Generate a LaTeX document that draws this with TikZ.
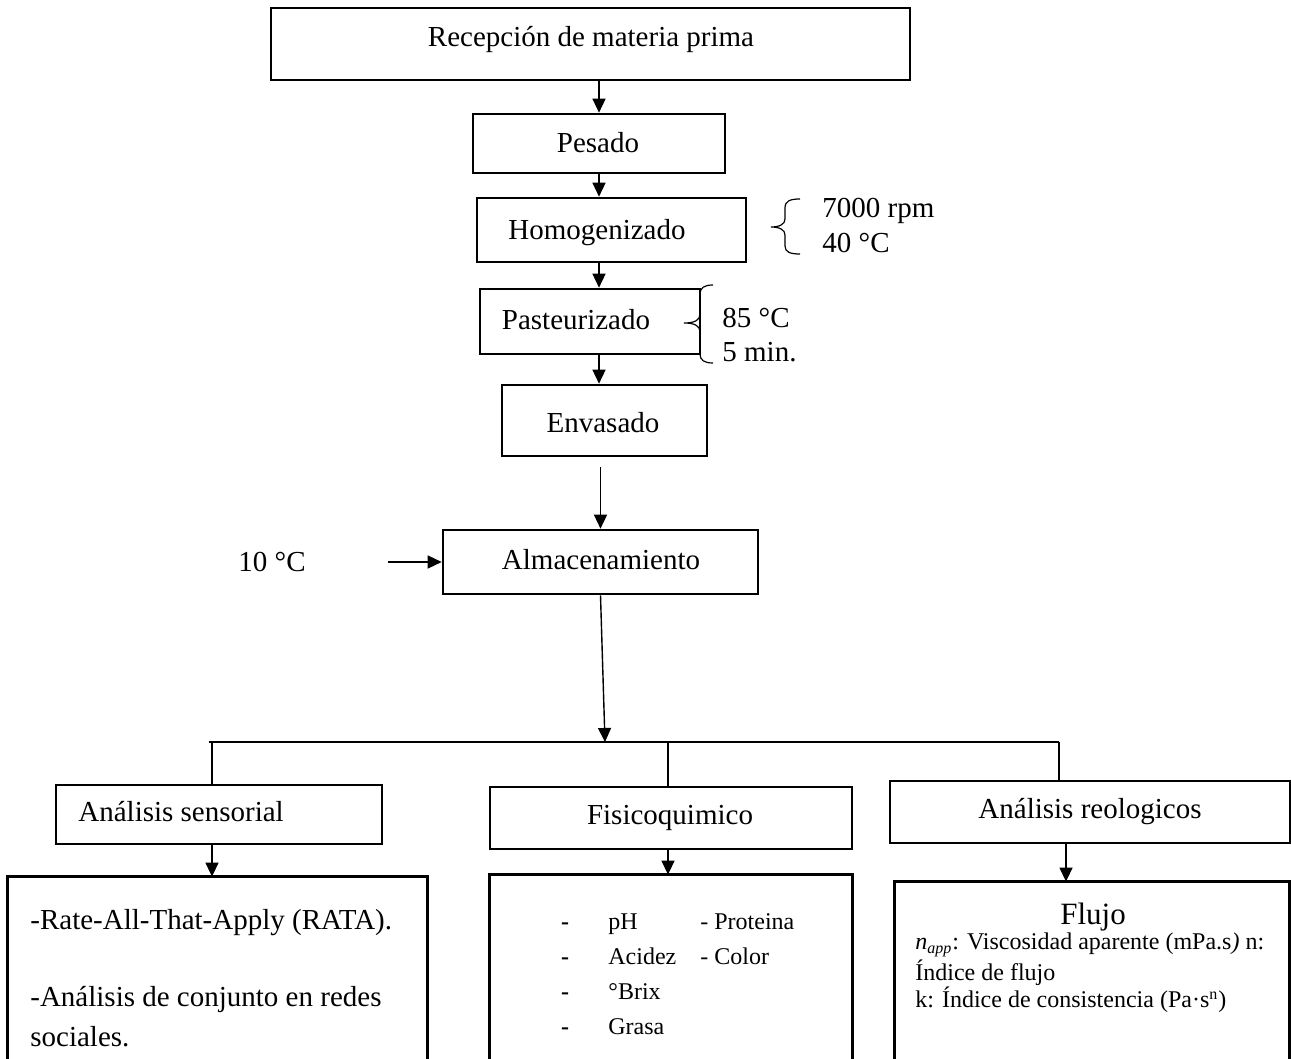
\documentclass[tikz,border=0pt]{standalone}
\usepackage{fontspec}
\setmainfont{Liberation Serif}
\usetikzlibrary{arrows.meta,calc}
\begin{document}
\begin{tikzpicture}[x=0.5pt,y=-0.5pt,
  boxn/.style={draw,line width=1.3pt,inner sep=0pt,minimum width=#1},
  openbox/.style={draw=none,inner sep=0pt},
  txt/.style={font=\fontsize{14.5pt}{17pt}\selectfont,inner sep=0pt},
  txtl/.style={font=\fontsize{14.5pt}{17pt}\selectfont,inner sep=0pt,anchor=west},
  small/.style={font=\fontsize{12pt}{14pt}\selectfont,inner sep=0pt,anchor=west},
  smallb/.style={font=\fontsize{12pt}{14pt}\selectfont,inner sep=0pt,anchor=base west},
  conn/.style={line width=0.7pt},
  arr/.style={line width=0.7pt,-{Triangle[length=7pt,width=6.5pt]}},
  brace/.style={line width=0.6pt}
]
\useasboundingbox (0,0) rectangle (1291,1059);

% process boxes
\node[boxn=319.5pt,minimum height=36pt] (rec) at (590.5,44) {};
\node[txt] (trec) at (591,40) {Recepción de materia prima};
\node[boxn=126pt,minimum height=29.5pt] (pes) at (599,143.5) {};
\node[txt] (tpes) at (598,143) {Pesado};
\node[boxn=134.5pt,minimum height=32pt] (hom) at (611.5,230) {};
\node[txt] (thom) at (597,233) {Homogenizado};
\node[boxn=110pt,minimum height=32.5pt] (pas) at (590,321.5) {};
\node[txt] (tpas) at (576,320) {Pasteurizado};
\node[boxn=102.5pt,minimum height=35.5pt] (env) at (604.5,420.5) {};
\node[txt] (tenv) at (603,423) {Envasado};
\node[boxn=157.5pt,minimum height=32pt] (alm) at (600.5,562) {};
\node[txt] (talm) at (601,560) {Almacenamiento};

% side notes
\node[txtl] (n1) at (822,211) {7000 rpm};
\node[txtl] (n2) at (822,243) {40 °C};
\node[txtl] (n3) at (722,318) {85 °C};
\node[txtl] (n4) at (722,352) {5 min.};
\node[txtl] (n5) at (238,562) {10 °C};

% braces
\draw[brace] (800,199) .. controls (790,199) and (785,201) .. (785,208) -- (785,219)
  .. controls (785,224) and (780,227) .. (771,227)
  .. controls (780,227) and (785,230) .. (785,235) -- (785,246)
  .. controls (785,252) and (790,254) .. (800,254);
\draw[brace] (713,285) .. controls (704,285) and (700,288) .. (700,294) -- (700,314)
  .. controls (700,320) and (695,323) .. (684,323)
  .. controls (695,323) and (700,326) .. (700,332) -- (700,354)
  .. controls (700,360) and (704,363) .. (713,363);

% analysis boxes
\node[boxn=163pt,minimum height=29.5pt] (sens) at (219,814.5) {};
\node[txtl] (tsens) at (78,812) {Análisis sensorial};
\node[boxn=181pt,minimum height=31pt] (fis) at (671,818) {};
\node[txt] (tfis) at (670,818) {Fisicoquimico};
\node[boxn=200pt,minimum height=31pt] (reo) at (1090,812) {};
\node[txt] (treo) at (1090,812) {Análisis reologicos};

% open bottom boxes
\node[openbox,minimum width=209.5pt,minimum height=91pt] (sensbox) at (217.5,968) {};
\node[openbox,minimum width=181pt,minimum height=92pt] (fisbox) at (671,967) {};
\node[openbox,minimum width=197pt,minimum height=88.5pt] (reobox) at (1092,970.5) {};
\foreach \b in {sensbox,fisbox,reobox}{
  \draw[line width=1.3pt] (\b.south west) |- (\b.north east) -- (\b.south east);
}

% sensorial texts
\node[txtl] (s1) at (30,923) {-Rate-All-That-Apply (RATA).};
\node[txtl] (s2) at (30,999) {-Análisis de conjunto en redes};
\node[txtl] (s3) at (30,1037) {sociales.};

% fisicoquimico texts
\foreach \yy/\t [count=\i] in {929/pH,964/Acidez,999/°Brix,1034/Grasa}{
  \node[smallb,anchor=base] (fd\i) at (565,\yy) {\textbf{-}};
  \node[smallb] (ft\i) at (608,\yy) {\t};
}
\node[smallb] (fp) at (700,929) {- Proteina};
\node[smallb] (fc) at (700,964) {- Color};

% reologicos texts
\node[inner sep=0pt,font=\fontsize{15.5pt}{18pt}\selectfont] (flujo) at (1093,917) {Flujo};
\node[small] (r1) at (915,945) {\textit{n}\textsubscript{\textit{app}}: Viscosidad aparente (mPa.s\textit{)} n:};
\node[small] (r2) at (915,973) {Índice de flujo};
\node[small] (r3) at (915,1000) {k: Índice de consistencia (Pa·s\textsuperscript{n})};

% connectors
\draw[arr] (pes.north |- rec.south) -- (pes.north);
\draw[arr] (pes.south) -- (pes.south |- hom.north);
\draw[arr] (pes.south |- hom.south) -- (pes.south |- pas.north);
\draw[arr] (pes.south |- pas.south) -- (pes.south |- env.north);
\draw[arr] ([yshift=-5pt]env.south -| alm.north) -- (alm.north);
\coordinate (a10) at (388,562);
\draw[arr] (a10) -- (alm.west);
\coordinate (J) at (605,742);
\draw[arr] (alm.south) -- (J);
\coordinate (hL) at (209,742);
\coordinate (hR) at (1059,742);
\draw[line width=0.6pt] (hL) -- (hR);
\coordinate (d1) at (212,742);
\coordinate (d2) at (668,742);
\coordinate (d3) at (1059,742);
\draw[conn] (d1) -- (d1 |- sens.north);
\draw[conn] (d2) -- (d2 |- fis.north);
\draw[conn] (d3) -- (d3 |- reo.north);
\draw[arr] (d1 |- sens.south) -- (d1 |- sensbox.north);
\draw[arr] (d2 |- fis.south) -- (d2 |- fisbox.north);
\coordinate (d4) at (1066,842);
\draw[arr] (d4 |- reo.south) -- (d4 |- reobox.north);
\end{tikzpicture}
\end{document}
